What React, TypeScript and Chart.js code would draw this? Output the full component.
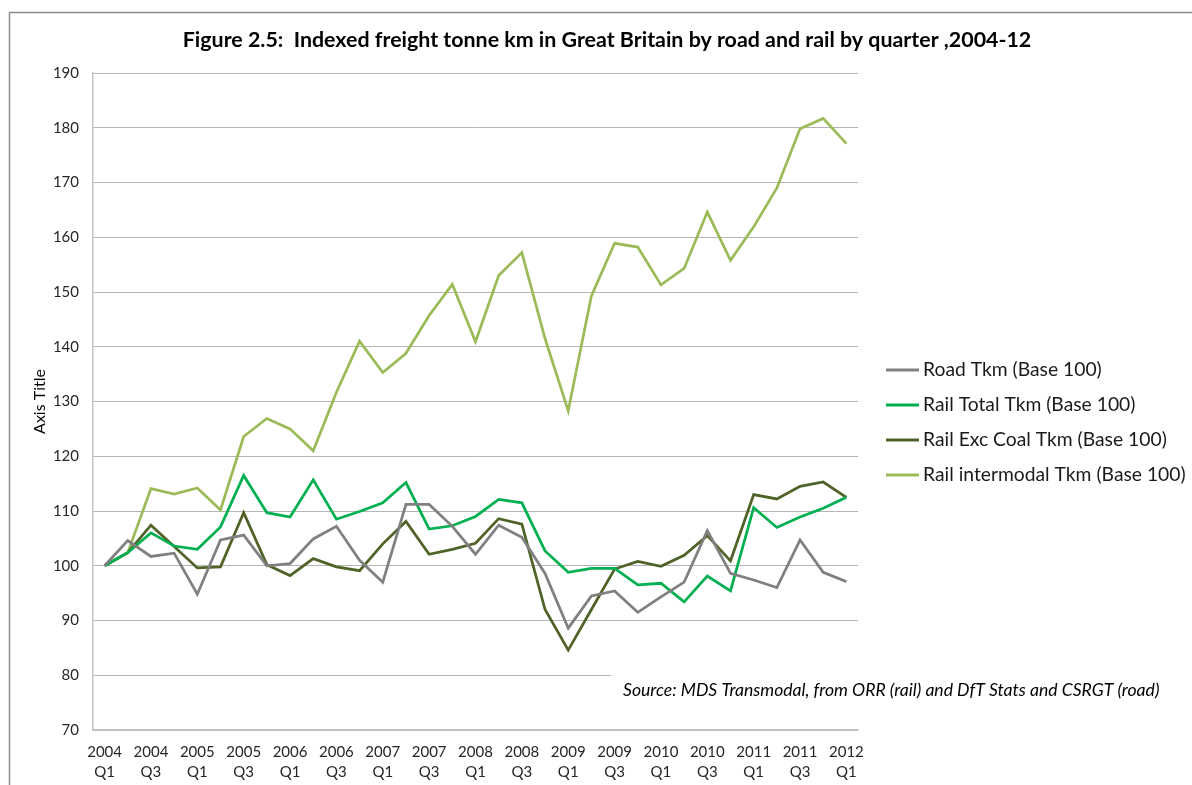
import React, { useEffect, useRef } from 'react';
import { Chart, registerables } from 'chart.js';

Chart.register(...registerables);

const quarters = [
  '2004 Q1', '2004 Q2', '2004 Q3', '2004 Q4',
  '2005 Q1', '2005 Q2', '2005 Q3', '2005 Q4',
  '2006 Q1', '2006 Q2', '2006 Q3', '2006 Q4',
  '2007 Q1', '2007 Q2', '2007 Q3', '2007 Q4',
  '2008 Q1', '2008 Q2', '2008 Q3', '2008 Q4',
  '2009 Q1', '2009 Q2', '2009 Q3', '2009 Q4',
  '2010 Q1', '2010 Q2', '2010 Q3', '2010 Q4',
  '2011 Q1', '2011 Q2', '2011 Q3', '2011 Q4',
  '2012 Q1',
];

const roadTkm = [
  100, 104.6, 101.7, 102.3, 94.8, 104.7, 105.6, 100.0, 100.4, 104.9, 107.2, 101.0,
  97.0, 111.2, 111.2, 107.2, 102.1, 107.4, 105.2, 98.6, 88.6, 94.5, 95.4, 91.5,
  94.3, 97.0, 106.4, 98.6, 97.4, 96.0, 104.7, 98.8, 97.1,
];

const railTotalTkm = [
  100, 102.4, 106.0, 103.6, 103.0, 107.1, 116.5, 109.7, 108.9, 115.7, 108.5, 109.9,
  111.5, 115.2, 106.7, 107.3, 109.0, 112.1, 111.5, 102.7, 98.8, 99.5, 99.5, 96.5,
  96.8, 93.4, 98.1, 95.4, 110.6, 107.0, 108.9, 110.5, 112.5,
];

const railExcCoalTkm = [
  100, 102.4, 107.4, 103.5, 99.6, 99.8, 109.7, 100.2, 98.2, 101.3, 99.8, 99.1,
  104.0, 108.1, 102.1, 103.0, 104.1, 108.6, 107.6, 92.0, 84.6, 92.0, 99.4, 100.8,
  99.9, 101.9, 105.5, 100.9, 113.0, 112.2, 114.5, 115.3, 112.5,
];

const railIntermodalTkm = [
  100, 102.4, 114.1, 113.1, 114.2, 110.2, 123.6, 126.9, 125.0, 121.0, 131.7, 141.0,
  135.3, 138.8, 145.7, 151.4, 140.9, 153.0, 157.2, 141.5, 128.3, 149.3, 158.9, 158.2,
  151.3, 154.3, 164.6, 155.8, 161.9, 169.0, 179.8, 181.7, 177.1,
];

const seriesNames = [
  'Road Tkm (Base 100)',
  'Rail Total Tkm (Base 100)',
  'Rail Exc Coal Tkm (Base 100)',
  'Rail intermodal Tkm (Base 100)',
];
const seriesColors = ['#808080', '#00B050', '#4F6228', '#9BBB59'];

const titleText = 'Figure 2.5:  Indexed freight tonne km in Great Britain by road and rail by quarter ,2004-12';
const sourceText = 'Source: MDS Transmodal, from ORR (rail) and DfT Stats and CSRGT (road)';
const yAxisTitle = 'Axis Title';

const FONT = 'Lato, "Open Sans", "Liberation Sans", sans-serif';

export default function App() {
  const ref = useRef<HTMLCanvasElement>(null);

  useEffect(() => {
    const canvas = ref.current;
    if (!canvas) return;

    const overlay = {
      id: 'overlay',
      beforeDraw(chart: any) {
        const ctx = chart.ctx;
        ctx.save();
        ctx.fillStyle = '#ffffff';
        ctx.fillRect(0, 0, chart.width, chart.height);
        ctx.restore();
      },
      afterDraw(chart: any) {
        const ctx = chart.ctx as CanvasRenderingContext2D;
        ctx.save();
        // outer border
        ctx.strokeStyle = '#8c8c8c';
        ctx.lineWidth = 1.5;
        ctx.beginPath();
        ctx.moveTo(9.5, 785);
        ctx.lineTo(9.5, 12.5);
        ctx.lineTo(1192, 12.5);
        ctx.stroke();

        // title
        ctx.fillStyle = '#000000';
        ctx.font = `bold 21.4px ${FONT}`;
        ctx.textAlign = 'center';
        ctx.textBaseline = 'middle';
        ctx.fillText(titleText, 607, 40);

        // legend
        ctx.textAlign = 'left';
        ctx.font = `19.3px ${FONT}`;
        seriesNames.forEach((name, i) => {
          const y = 370 + i * 35;
          ctx.strokeStyle = seriesColors[i];
          ctx.lineWidth = 3;
          ctx.beginPath();
          ctx.moveTo(886, y);
          ctx.lineTo(919, y);
          ctx.stroke();
          ctx.fillStyle = '#1a1a1a';
          ctx.fillText(name, 923, y);
        });

        // source box
        ctx.fillStyle = '#ffffff';
        ctx.fillRect(611, 666, 570, 46);
        ctx.fillStyle = '#000000';
        ctx.font = `italic 17.6px ${FONT}`;
        ctx.textAlign = 'left';
        ctx.fillText(sourceText, 623, 690);
        ctx.restore();
      },
    };

    const chart = new Chart(canvas, {
      type: 'line',
      data: {
        labels: quarters,
        datasets: [roadTkm, railTotalTkm, railExcCoalTkm, railIntermodalTkm].map((d, i) => ({
          label: seriesNames[i],
          data: d,
          borderColor: seriesColors[i],
          backgroundColor: seriesColors[i],
          borderWidth: 2.75,
          pointRadius: 0,
          tension: 0,
          fill: false,
        })),
      },
      options: {
        responsive: false,
        animation: false,
        devicePixelRatio: 1,
        layout: { padding: { left: 20, right: 334, top: 73, bottom: 0 } },
        plugins: {
          legend: { display: false },
          title: { display: false },
          tooltip: { enabled: false },
        },
        scales: {
          x: {
            offset: true,
            grid: { display: false, drawTicks: false },
            border: { display: true, color: '#c4c4c4', width: 1.5 },
            ticks: {
              autoSkip: false,
              maxRotation: 0,
              minRotation: 0,
              padding: 12,
              color: '#262626',
              font: { family: FONT, size: 15, lineHeight: 20 / 15 },
              callback: (_v: any, index: number) =>
                index % 2 === 0 ? quarters[index].split(' ') : '',
            },
            afterFit: (s: any) => {
              s.height = 55;
            },
          },
          y: {
            min: 70,
            max: 190,
            grid: { color: '#b4b4b4', drawTicks: false, lineWidth: 1 },
            border: { display: true, color: '#c4c4c4', width: 1.5 },
            ticks: {
              stepSize: 10,
              padding: 14,
              color: '#262626',
              font: { family: FONT, size: 15 },
            },
            title: {
              display: true,
              text: yAxisTitle,
              color: '#000000',
              font: { family: FONT, size: 16 },
              padding: { top: 10, bottom: 0 },
            },
            afterFit: (s: any) => {
              s.width = 73;
            },
          },
        },
      },
      plugins: [overlay],
    } as any);

    return () => chart.destroy();
  }, []);

  return (
    <canvas
      ref={ref}
      width={1192}
      height={785}
      style={{ position: 'fixed', left: 0, top: 0, width: 1192, height: 785 }}
    />
  );
}
